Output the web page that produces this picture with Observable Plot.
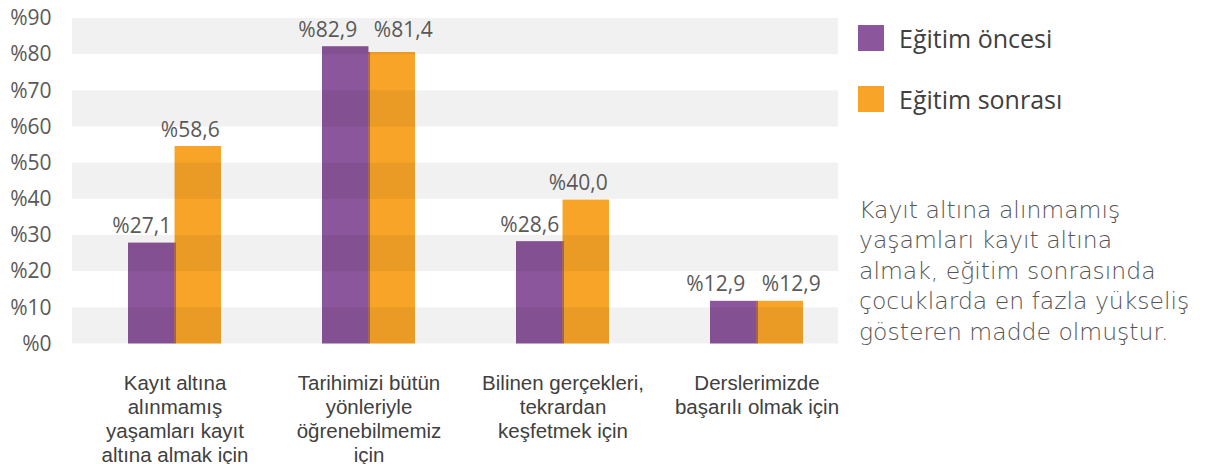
<!DOCTYPE html>
<html>
<head>
<meta charset="utf-8">
<script src="https://cdn.jsdelivr.net/npm/d3@7"></script>
<script src="https://cdn.jsdelivr.net/npm/@observablehq/plot@0.6"></script>
<style>
  html, body { margin: 0; padding: 0; background: #fff; }
  #wrap { position: relative; width: 1209px; height: 464px; font-family: "Open Sans", sans-serif; }
  #chart { position: absolute; left: 0; top: 0; }
  .legend-item { position: absolute; left: 858px; display: flex; align-items: center; height: 26px; }
  .legend-item .sw { width: 26px; height: 26px; margin-right: 15px; }
  .legend-item .lb { font-size: 25px; color: #404040; line-height: 26px; white-space: nowrap; }
  #note { position: absolute; left: 859px; top: 194.5px; font-family: "DejaVu Sans", sans-serif; font-size: 23.5px; line-height: 30.5px; font-weight: 200; color: #555555; white-space: nowrap; }
</style>
</head>
<body>
<div id="wrap">
  <div id="chart"></div>
  <div id="legend"></div>
  <div id="note"></div>
</div>
<script>
const categories = [
  "Kayıt altına\nalınmamış\nyaşamları kayıt\naltına almak için",
  "Tarihimizi bütün\nyönleriyle\nöğrenebilmemiz\niçin",
  "Bilinen gerçekleri,\ntekrardan\nkeşfetmek için",
  "Derslerimizde\nbaşarılı olmak için"
];
const seriesNames = ["Eğitim öncesi", "Eğitim sonrası"];
const colors = ["#8b569b", "#f7a428"];
// bar heights as drawn in the picture
const beforeValues = [27.9, 82.2, 28.3, 11.8];
const afterValues  = [54.6, 80.6, 39.8, 11.8];
// printed value labels
const beforeLabels = ["%27,1", "%82,9", "%28,6", "%12,9"];
const afterLabels  = ["%58,6", "%81,4", "%40,0", "%12,9"];
const yTicks = [0, 10, 20, 30, 40, 50, 60, 70, 80, 90];
const noteLines = [
  "Kayıt altına alınmamış",
  "yaşamları kayıt altına",
  "almak, eğitim sonrasında",
  "çocuklarda en fazla yükseliş",
  "gösteren madde olmuştur."
];

const W = 840, H = 464;
const mL = 72, mR = 2, mT = 18, mB = 120.5;
const padIn = 0.521, padOut = 0.2316, align = 0.61;
const xb = d3.scaleBand(categories, [mL, W - mR]).paddingInner(padIn).paddingOuter(padOut).align(align);
const half = xb.bandwidth() / 2;

const rows = categories.map((c, i) => {
  const close = Math.abs(beforeValues[i] - afterValues[i]) < 5;
  return {
    cat: c,
    b: beforeValues[i], a: afterValues[i],
    bl: beforeLabels[i], al: afterLabels[i],
    lo: Math.min(beforeValues[i], afterValues[i]),
    ly: close ? Math.max(beforeValues[i], afterValues[i]) : null,
    close
  };
});
const bands = [];
for (let i = 0; i + 1 < yTicks.length; i += 2) bands.push({y1: yTicks[i], y2: yTicks[i + 1]});

const textStyle = {fontSize: 21, fill: "#595959", lineAnchor: "bottom", fontFamily: "Open Sans"};

const plot = Plot.plot({
  width: W, height: H,
  marginLeft: mL, marginRight: mR, marginTop: mT, marginBottom: mB,
  style: {fontFamily: "Open Sans", background: "transparent", overflow: "visible"},
  x: {type: "band", domain: categories, paddingInner: padIn, paddingOuter: padOut, align: align},
  y: {domain: [0, 90]},
  marks: [
    Plot.barY(rows, {x: "cat", y: "b", fill: colors[0], insetRight: half}),
    Plot.barY(rows, {x: "cat", y: "a", fill: colors[1], insetLeft: half}),
    Plot.ruleX(rows, {x: "cat", y1: 0, y2: "lo", stroke: "#7a2d36", strokeWidth: 1}),
    Plot.rectY(bands, {y1: "y1", y2: "y2", fill: "#000", fillOpacity: 0.055}),
    Plot.text(rows, {filter: d => !d.close, x: "cat", y: "b", text: "bl", dx: -half / 2 - 10, dy: -10, ...textStyle}),
    Plot.text(rows, {filter: d => !d.close, x: "cat", y: "a", text: "al", dx: half / 2 - 8, dy: -10, ...textStyle}),
    Plot.text(rows, {filter: d => d.close, x: "cat", y: "ly", text: "bl", dx: -half / 2 - 18, dy: -10, ...textStyle}),
    Plot.text(rows, {filter: d => d.close, x: "cat", y: "ly", text: "al", dx: half / 2 + 11, dy: -10, ...textStyle}),
    Plot.axisY({ticks: yTicks, tickFormat: d => "%" + d, tickSize: 0, tickPadding: 21, fontSize: 21, fill: "#595959", label: null}),
    Plot.axisX({tickSize: 0, tickPadding: 29, fontSize: 20.5, fontFamily: "Liberation Sans", fill: "#404040", lineHeight: 1.17, label: null, textOverflow: null})
  ]
});
document.getElementById("chart").appendChild(plot);

const legend = document.getElementById("legend");
const legendTops = [25, 86];
seriesNames.forEach((s, i) => {
  const item = document.createElement("div");
  item.className = "legend-item";
  item.style.top = legendTops[i] + "px";
  const sw = document.createElement("div");
  sw.className = "sw";
  sw.style.background = colors[i];
  const lb = document.createElement("div");
  lb.className = "lb";
  lb.textContent = s;
  item.appendChild(sw); item.appendChild(lb);
  legend.appendChild(item);
});
document.getElementById("note").innerHTML = noteLines.join("<br>");
</script>
</body>
</html>
